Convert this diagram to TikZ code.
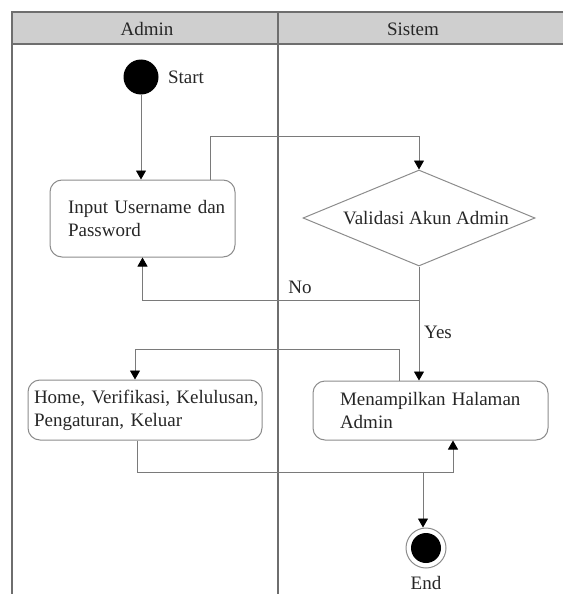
\documentclass[tikz,border=0pt]{standalone}
\usepackage{fontspec}
\setmainfont{Liberation Serif}
\usetikzlibrary{arrows.meta,shapes.geometric,calc}
\definecolor{framec}{HTML}{6E6E6E}
\definecolor{headc}{HTML}{CFCFCF}
\definecolor{linec}{HTML}{7A7A7A}
\definecolor{boxc}{HTML}{8C8C8C}
\definecolor{txtc}{HTML}{262626}
\tikzset{
  every node/.style={text=txtc, font=\fontsize{19}{23}\selectfont},
  frameline/.style={draw=framec, line width=1.1pt},
  actbox/.style={draw=boxc, line width=1pt, rounded corners=12pt, rectangle, inner xsep=3pt, inner ysep=0pt, align=left},
  decbox/.style={draw=boxc, line width=1pt, diamond, inner sep=0pt, aspect=2.42, minimum width=232, minimum height=96},
  conn/.style={draw=linec, line width=0.9pt},
  arr/.style={conn, -{Triangle[width=10pt,length=9pt,color=black]}},
}
\begin{document}
\begin{tikzpicture}[x=1pt,y=-1pt]
\useasboundingbox (0,0) rectangle (563,594);
% swimlane frame
\fill[headc] (12,12) rectangle (563,44);
\draw[frameline] (563,12) -- (12,12) -- (12,594);
\draw[frameline] (12,44) -- (563,44);
\draw[frameline] (278,12) -- (278,594);
\node (hadmin) at (147,29) {Admin};
\node (hsistem) at (413,29) {Sistem};
% start
\node[circle, fill=black, minimum size=35pt, inner sep=0pt] (start) at (141,77) {};
\node (startlbl) at (186,77) {Start};
% input
\node[actbox, minimum width=185, minimum height=77, text width=179] (input) at (142.5,218.5)
  {\hspace*{15pt}Input Username dan\\\hspace*{15pt}Password};
% decision
\node[decbox] (dec) at (419,218) {\hspace{14pt}Validasi Akun Admin};
% menampilkan
\node[actbox, minimum width=235, minimum height=59, text width=229] (menamp) at (430.5,410.5)
  {\hspace*{24pt}Menampilkan Halaman\\\hspace*{24pt}Admin};
% home
\node[actbox, minimum width=234, minimum height=60, text width=228] (home) at (145,410)
  {\mbox{\hspace*{3pt}Home, Verifikasi, Kelulusan,}\\\mbox{\hspace*{3pt}Pengaturan, Keluar}};
% end
\node[circle, draw=boxc, line width=1pt, minimum size=40pt, inner sep=0pt,
      path picture={\fill[black] (path picture bounding box.center) circle (15pt);}] (end) at (426,548) {};
\node[inner sep=1pt] (endlbl) at (426,583) {End};
% labels
\node (nolbl) at (300,287) {No};
\node (yeslbl) at (438,332) {Yes};
% coordinates for bends
\coordinate (c1) at (210,136);
\coordinate (nojoin) at (419,300);
\coordinate (c2) at (399,349);
\coordinate (c3) at (135,349);
\coordinate (c4) at (137,472);
\coordinate (c5) at (453,472);
\coordinate (c6) at (423,472);
% connectors
\draw[arr] (start) -- (start |- input.north);
\draw[arr] (input.north -| c1) -- (c1) -| (dec.north);
\draw[arr] (dec.south) -- (nojoin) -| (input.south);
\draw[arr] (nojoin) -- (nojoin |- menamp.north);
\draw[arr] (menamp.north -| c2) -- (c2) -- (c3) -- (c3 |- home.north);
\draw[arr] (home.south -| c4) -- (c4) -- (c5) -- (c5 |- menamp.south);
\draw[arr] (c6) -- (c6 |- end.north);
\end{tikzpicture}
\end{document}
